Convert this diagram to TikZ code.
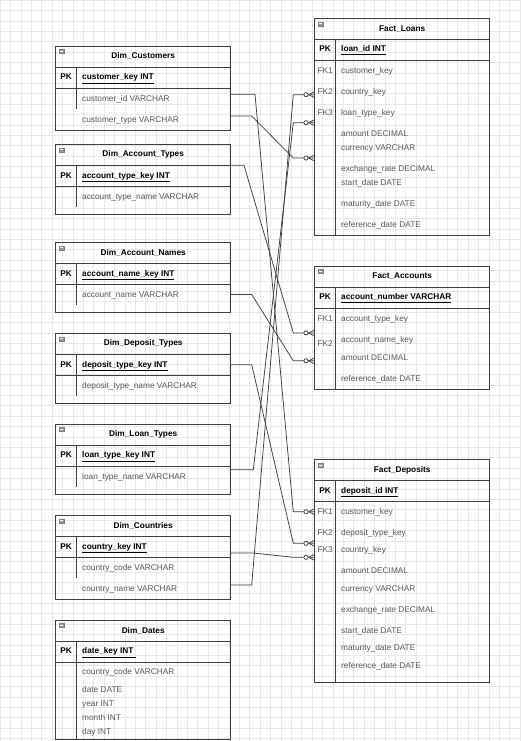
\documentclass[tikz,border=0pt]{standalone}
\usepackage{fontspec}
\setmainfont{Liberation Sans}
\usetikzlibrary{positioning, calc}
\definecolor{linegray}{RGB}{64,64,64}
\definecolor{textgray}{RGB}{88,88,88}
\definecolor{gridgray}{RGB}{232,232,232}
\definecolor{icongray}{RGB}{150,150,150}
\newcommand{\erfont}{\fontsize{8.3}{10}\selectfont}

\begin{document}
\begin{tikzpicture}[x=1pt, y=-1pt,
    tbltitle/.style={rectangle, draw=linegray, line width=0.8pt, minimum width=175pt, minimum height=21pt, inner sep=0pt, outer sep=0pt, anchor=north west, font=\erfont\bfseries},
    tblrow/.style={rectangle, draw=linegray, line width=0.8pt, minimum width=175pt, inner sep=0pt, outer sep=0pt, below=0pt of #1},
    coldiv/.style={draw=linegray, line width=0.8pt},
    pktag/.style={inner sep=0pt, text height=6.2pt, text depth=1.8pt, font=\erfont\bfseries, text=black},
    fktag/.style={inner sep=0pt, text height=6.2pt, text depth=1.8pt, font=\erfont, text=textgray},
    keyfield/.style={anchor=west, inner sep=0pt, text height=6.2pt, text depth=1.8pt, font=\erfont\bfseries, text=black},
    field/.style={anchor=west, inner sep=0pt, text height=6.2pt, text depth=1.8pt, font=\erfont, text=textgray},
    iconbox/.style={rectangle, fill=icongray, draw=gray, line width=0.3pt, minimum width=4.6pt, minimum height=4pt, inner sep=0pt, anchor=north west,
        path picture={\draw[white, line width=0.6pt] ([xshift=0.9pt]path picture bounding box.west) -- ([xshift=-0.9pt]path picture bounding box.east);}},
    relline/.style={draw=linegray, line width=0.75pt},
    gridline/.style={draw=gridgray, line width=0.5pt}]

    % background grid
    \useasboundingbox (0,0) rectangle (520,741);
    \fill[white] (0,0) rectangle (520,741);
    \foreach \gx in {0,10.4,...,520} \draw[gridline] (\gx,0) -- (\gx,741);
    \foreach \gy in {0,10.4,...,741} \draw[gridline] (0,\gy) -- (520,\gy);

    % Dim_Customers
    \begin{scope}[shift={(55.7,46)}]
        \node[tbltitle] (dcust-title) at (0,0) {Dim\_Customers};
        \node[tblrow=dcust-title, minimum height=21pt] (dcust-pk) {};
        \node[tblrow=dcust-pk, minimum height=42pt] (dcust-body) {};
        \draw[coldiv] (21,21) -- (21,63);
        \node[pktag] (dcust-pktag) at (10.5,31.5) {PK};
        \node[keyfield] (dcust-key) at (26.3,31.5) {\underline{customer\_key INT}};
        \node[field] (dcust-f1) at (26.3,53) {customer\_id VARCHAR};
        \node[field] (dcust-f2) at (26.3,74) {customer\_type VARCHAR};
    \end{scope}

    % Dim_Account_Types
    \begin{scope}[shift={(55.7,144.3)}]
        \node[tbltitle] (dacct-title) at (0,0) {Dim\_Account\_Types};
        \node[tblrow=dacct-title, minimum height=21pt] (dacct-pk) {};
        \node[tblrow=dacct-pk, minimum height=28pt] (dacct-body) {};
        \draw[coldiv] (21,21) -- (21,62.4);
        \node[pktag] (dacct-pktag) at (10.5,31.5) {PK};
        \node[keyfield] (dacct-key) at (26.3,31.5) {\underline{account\_type\_key INT}};
        \node[field] (dacct-f1) at (26.3,52.5) {account\_type\_name VARCHAR};
    \end{scope}

    % Dim_Account_Names
    \begin{scope}[shift={(55.7,242.3)}]
        \node[tbltitle] (dname-title) at (0,0) {Dim\_Account\_Names};
        \node[tblrow=dname-title, minimum height=21pt] (dname-pk) {};
        \node[tblrow=dname-pk, minimum height=28pt] (dname-body) {};
        \draw[coldiv] (21,21) -- (21,62.7);
        \node[pktag] (dname-pktag) at (10.5,31.5) {PK};
        \node[keyfield] (dname-key) at (26.3,31.5) {\underline{account\_name\_key INT}};
        \node[field] (dname-f1) at (26.3,52.7) {account\_name VARCHAR};
    \end{scope}

    % Dim_Deposit_Types
    \begin{scope}[shift={(55.7,333.3)}]
        \node[tbltitle] (ddtyp-title) at (0,0) {Dim\_Deposit\_Types};
        \node[tblrow=ddtyp-title, minimum height=21pt] (ddtyp-pk) {};
        \node[tblrow=ddtyp-pk, minimum height=28pt] (ddtyp-body) {};
        \draw[coldiv] (21,21) -- (21,62.4);
        \node[pktag] (ddtyp-pktag) at (10.5,31.5) {PK};
        \node[keyfield] (ddtyp-key) at (26.3,31.5) {\underline{deposit\_type\_key INT}};
        \node[field] (ddtyp-f1) at (26.3,52.7) {deposit\_type\_name VARCHAR};
    \end{scope}

    % Dim_Loan_Types
    \begin{scope}[shift={(55.7,424)}]
        \node[tbltitle] (dltyp-title) at (0,0) {Dim\_Loan\_Types};
        \node[tblrow=dltyp-title, minimum height=21pt] (dltyp-pk) {};
        \node[tblrow=dltyp-pk, minimum height=28pt] (dltyp-body) {};
        \draw[coldiv] (21,21) -- (21,63);
        \node[pktag] (dltyp-pktag) at (10.5,31.5) {PK};
        \node[keyfield] (dltyp-key) at (26.3,31.5) {\underline{loan\_type\_key INT}};
        \node[field] (dltyp-f1) at (26.3,53) {loan\_type\_name VARCHAR};
    \end{scope}

    % Dim_Countries
    \begin{scope}[shift={(55.7,515.3)}]
        \node[tbltitle] (dctry-title) at (0,0) {Dim\_Countries};
        \node[tblrow=dctry-title, minimum height=21pt] (dctry-pk) {};
        \node[tblrow=dctry-pk, minimum height=42pt] (dctry-body) {};
        \draw[coldiv] (21,21) -- (21,62.7);
        \node[pktag] (dctry-pktag) at (10.5,31.5) {PK};
        \node[keyfield] (dctry-key) at (26.3,31.5) {\underline{country\_key INT}};
        \node[field] (dctry-f1) at (26.3,52.7) {country\_code VARCHAR};
        \node[field] (dctry-f2) at (26.3,74) {country\_name VARCHAR};
    \end{scope}

    % Dim_Dates
    \begin{scope}[shift={(55.7,620)}]
        \node[tbltitle] (ddate-title) at (0,0) {Dim\_Dates};
        \node[tblrow=ddate-title, minimum height=21pt] (ddate-pk) {};
        \node[tblrow=ddate-pk, minimum height=77pt] (ddate-body) {};
        \draw[coldiv] (21,21) -- (21,119);
        \node[pktag] (ddate-pktag) at (10.5,31.5) {PK};
        \node[keyfield] (ddate-key) at (26.3,31.5) {\underline{date\_key INT\ }};
        \node[field] (ddate-f1) at (26.3,52.7) {country\_code VARCHAR};
        \node[field] (ddate-f2) at (26.3,70.3) {date DATE};
        \node[field] (ddate-f3) at (26.3,84.3) {year INT};
        \node[field] (ddate-f4) at (26.3,98.3) {month INT};
        \node[field] (ddate-f5) at (26.3,112) {day INT};
    \end{scope}

    % Fact_Loans
    \begin{scope}[shift={(314.7,18.3)}]
        \node[tbltitle] (floan-title) at (0,0) {Fact\_Loans};
        \node[tblrow=floan-title, minimum height=21pt] (floan-pk) {};
        \node[tblrow=floan-pk, minimum height=174.7pt] (floan-body) {};
        \draw[coldiv] (21,21) -- (21,216.7);
        \node[pktag] (floan-pktag) at (10.5,31.5) {PK};
        \node[keyfield] (floan-key) at (26.3,31.5) {\underline{loan\_id INT}};
        \node[fktag] (floan-fk1) at (10.5,53) {FK1};
        \node[fktag] (floan-fk2) at (10.5,74) {FK2};
        \node[fktag] (floan-fk3) at (10.5,95) {FK3};
        \node[field] (floan-f1) at (26.3,53) {customer\_key};
        \node[field] (floan-f2) at (26.3,74) {country\_key};
        \node[field] (floan-f3) at (26.3,95) {loan\_type\_key};
        \node[field] (floan-f4) at (26.3,116) {amount DECIMAL};
        \node[field] (floan-f5) at (26.3,129.7) {currency VARCHAR};
        \node[field] (floan-f6) at (26.3,151) {exchange\_rate DECIMAL};
        \node[field] (floan-f7) at (26.3,165) {start\_date DATE};
        \node[field] (floan-f8) at (26.3,186) {maturity\_date DATE};
        \node[field] (floan-f9) at (26.3,206.7) {reference\_date DATE};
    \end{scope}

    % Fact_Accounts
    \begin{scope}[shift={(314.7,266)}]
        \node[tbltitle] (facct-title) at (0,0) {Fact\_Accounts};
        \node[tblrow=facct-title, minimum height=21pt] (facct-pk) {};
        \node[tblrow=facct-pk, minimum height=81pt] (facct-body) {};
        \draw[coldiv] (21,21) -- (21,123);
        \node[pktag] (facct-pktag) at (10.5,31.5) {PK};
        \node[keyfield] (facct-key) at (26.3,31.5) {\underline{account\_number VARCHAR}};
        \node[fktag] (facct-fk1) at (10.5,53.7) {FK1};
        \node[fktag] (facct-fk2) at (10.5,78.3) {FK2};
        \node[field] (facct-f1) at (26.3,53.7) {account\_type\_key};
        \node[field] (facct-f2) at (26.3,74.3) {account\_name\_key};
        \node[field] (facct-f3) at (26.3,92.3) {amount DECIMAL};
        \node[field] (facct-f4) at (26.3,113) {reference\_date DATE};
    \end{scope}

    % Fact_Deposits
    \begin{scope}[shift={(314.7,459.7)}]
        \node[tbltitle] (fdep-title) at (0,0) {Fact\_Deposits};
        \node[tblrow=fdep-title, minimum height=21pt] (fdep-pk) {};
        \node[tblrow=fdep-pk, minimum height=181pt] (fdep-body) {};
        \draw[coldiv] (21,21) -- (21,223);
        \node[pktag] (fdep-pktag) at (10.5,31.5) {PK};
        \node[keyfield] (fdep-key) at (26.3,31.5) {\underline{deposit\_id INT}};
        \node[fktag] (fdep-fk1) at (10.5,52.6) {FK1};
        \node[fktag] (fdep-fk2) at (10.5,73.6) {FK2};
        \node[fktag] (fdep-fk3) at (10.5,90.3) {FK3};
        \node[field] (fdep-f1) at (26.3,52.6) {customer\_key};
        \node[field] (fdep-f2) at (26.3,73.6) {deposit\_type\_key};
        \node[field] (fdep-f3) at (26.3,90.3) {country\_key};
        \node[field] (fdep-f4) at (26.3,111.3) {amount DECIMAL};
        \node[field] (fdep-f5) at (26.3,129.6) {currency VARCHAR};
        \node[field] (fdep-f6) at (26.3,150.6) {exchange\_rate DECIMAL};
        \node[field] (fdep-f7) at (26.3,171.6) {start\_date DATE};
        \node[field] (fdep-f8) at (26.3,188.6) {maturity\_date DATE};
        \node[field] (fdep-f9) at (26.3,206.3) {reference\_date DATE};
    \end{scope}

    % collapse icons
    \foreach \t in {dcust,dacct,dname,ddtyp,dltyp,dctry,ddate,floan,facct,fdep}
        \node[iconbox] (\t-icon) at ($(\t-title.north west)+(3.3,3.3)$) {};

    % relationship ends
    \coordinate (dcust-out1) at (231,94.3);
    \coordinate (dcust-out2) at (231,116);
    \coordinate (dacct-out) at (231,165.3);
    \coordinate (dname-out) at (231,294.5);
    \coordinate (ddtyp-out) at (231,364.7);
    \coordinate (dltyp-out) at (231,469.7);
    \coordinate (dctry-out1) at (231,553);
    \coordinate (dctry-out2) at (231,585);
    \coordinate (floan-in1) at (314.7,94.7);
    \coordinate (floan-in2) at (314.7,122.7);
    \coordinate (floan-in3) at (314.7,158);
    \coordinate (facct-in1) at (314.7,332.9);
    \coordinate (facct-in2) at (314.7,360.8);
    \coordinate (fdep-in1) at (314.7,511.7);
    \coordinate (fdep-in2) at (314.7,543.3);
    \coordinate (fdep-in3) at (314.7,557.3);

    \draw[relline] (dcust-out1) -- ++(24,0) -- ($(fdep-in1)+(-21.4,0)$) -- (fdep-in1);
    \draw[relline] (dcust-out2) -- ++(20.7,0) -- ($(floan-in3)+(-21.4,0)$) -- (floan-in3);
    \draw[relline] (dacct-out) -- ++(13,0) -- ($(facct-in1)+(-21.4,0)$) -- (facct-in1);
    \draw[relline] (dname-out) -- ++(20.7,0) -- ($(facct-in2)+(-21.4,0)$) -- (facct-in2);
    \draw[relline] (ddtyp-out) -- ++(20.7,0) -- ($(fdep-in2)+(-21.4,0)$) -- (fdep-in2);
    \draw[relline] (dltyp-out) -- ++(22.3,0) -- ($(floan-in2)+(-21.4,0)$) -- (floan-in2);
    \draw[relline] (dctry-out1) -- ++(22,0) -- ($(fdep-in3)+(-21.4,0)$) -- (fdep-in3);
    \draw[relline] (dctry-out2) -- ++(20.7,0) -- ($(floan-in1)+(-21.4,0)$) -- (floan-in1);

    % zero-or-many ends
    \foreach \p in {floan-in1,floan-in2,floan-in3,facct-in1,facct-in2,fdep-in1,fdep-in2,fdep-in3} {
        \draw[relline] ($(\p)+(-6.2,0)$) -- ($(\p)+(0,-3)$);
        \draw[relline] ($(\p)+(-6.2,0)$) -- ($(\p)+(0,3)$);
        \draw[relline, fill=white] ($(\p)+(-8.7,0)$) circle (2.1);
    }

\end{tikzpicture}
\end{document}
